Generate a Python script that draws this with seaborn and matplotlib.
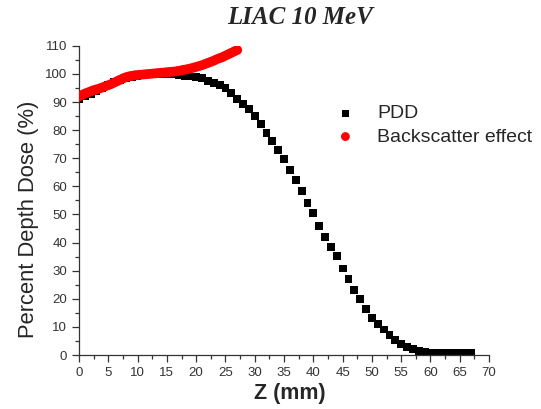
import matplotlib
matplotlib.use("Agg")
import matplotlib.pyplot as plt
import seaborn as sns
import pandas as pd
from matplotlib.ticker import MultipleLocator

# PDD data (depth in mm, percent depth dose)
pdd_z = [0, 1, 2, 3, 4, 5, 6, 7, 8, 9, 10, 11, 12, 13, 14, 15, 16, 17, 18, 19,
         20, 21, 22, 23, 24, 25, 26, 27, 28, 29, 30, 31, 32, 33, 34, 35, 36, 37, 38, 39,
         40, 41, 42, 43, 44, 45, 46, 47, 48, 49, 50, 51, 52, 53, 54, 55, 56, 57, 58, 59,
         60, 61, 62, 63, 64, 65, 66, 67]
pdd_val = [91.0, 92.0, 93.0, 94.0, 95.0, 96.0, 97.0, 97.8, 98.4, 98.9, 99.3, 99.6, 99.8, 100.0, 100.0, 99.9, 99.8, 99.6, 99.4, 99.1,
           98.8, 98.4, 97.4, 96.7, 96.0, 94.9, 93.1, 91.1, 89.4, 87.4, 85.0, 82.1, 79.1, 76.2, 73.0, 69.6, 65.8, 62.2, 58.5, 54.2,
           50.6, 46.0, 42.1, 38.5, 35.2, 30.8, 26.9, 23.1, 20.0, 16.3, 13.3, 11.0, 9.1, 7.0, 5.3, 4.0, 2.9, 2.0, 1.3, 1.0,
           0.9, 0.8, 0.8, 0.7, 0.7, 0.7, 0.6, 0.6]

# Backscatter effect data
bs_z = [0.0, 0.5, 1.0, 1.5, 2.0, 2.5, 3.0, 3.5, 4.0, 4.5, 5.0, 5.5, 6.0, 6.5, 7.0, 7.5, 8.0, 8.5, 9.0, 9.5,
        10.0, 10.5, 11.0, 11.5, 12.0, 12.5, 13.0, 13.5, 14.0, 14.5, 15.0, 15.5, 16.0, 16.5, 17.0, 17.5, 18.0, 18.5, 19.0, 19.5,
        20.0, 20.5, 21.0, 21.5, 22.0, 22.5, 23.0, 23.5, 24.0, 24.5, 25.0, 25.5, 26.0, 26.5, 27.0]
bs_val = [92.0, 92.5, 93.0, 93.4, 93.8, 94.2, 94.5, 94.8, 95.2, 95.6, 96.0, 96.4, 96.9, 97.4, 97.9, 98.4, 98.8, 99.1, 99.3, 99.5,
          99.6, 99.7, 99.8, 99.9, 100.0, 100.1, 100.2, 100.3, 100.4, 100.5, 100.6, 100.7, 100.8, 100.9, 101.1, 101.3, 101.5, 101.7, 101.9, 102.2,
          102.5, 102.8, 103.1, 103.5, 103.9, 104.3, 104.7, 105.2, 105.6, 106.0, 106.5, 107.0, 107.5, 108.0, 108.5]

sns.set_style("ticks")
plt.rcParams['font.family'] = ['Liberation Sans', 'DejaVu Sans']

fig = plt.figure(figsize=(5.41, 4.09), dpi=100)
ax = fig.add_axes([0.146, 0.132, 0.758, 0.756])

df_pdd = pd.DataFrame({"z": pdd_z, "v": pdd_val})
df_bs = pd.DataFrame({"z": bs_z, "v": bs_val})

sns.scatterplot(data=df_pdd, x="z", y="v", marker="s", s=32, color="black",
                edgecolor="none", ax=ax, label="PDD", zorder=2)
sns.scatterplot(data=df_bs, x="z", y="v", marker="o", s=50, color="#ff0000",
                edgecolor="none", ax=ax, label="Backscatter effect", zorder=3)

ax.set_xlim(0, 70)
ax.set_ylim(0, 110)
ax.xaxis.set_major_locator(MultipleLocator(5))
ax.xaxis.set_minor_locator(MultipleLocator(2.5))
ax.yaxis.set_major_locator(MultipleLocator(10))
ax.yaxis.set_minor_locator(MultipleLocator(5))
ax.tick_params(which="major", direction="out", length=5, width=0.9, color="#333333",
               labelsize=9.5, labelcolor="#333333")
ax.tick_params(which="minor", direction="out", length=3, width=0.9, color="#333333")
for s in ["top", "right"]:
    ax.spines[s].set_visible(False)
for s in ["left", "bottom"]:
    ax.spines[s].set_color("#333333")
    ax.spines[s].set_linewidth(0.9)

ax.set_xlabel("Z (mm)", fontsize=15.5, fontweight="bold", labelpad=4)
ax.xaxis.set_label_coords(0.515, -0.09)
ax.set_ylabel("Percent Depth Dose (%)", fontsize=15.8, labelpad=6)
ax.yaxis.set_label_coords(-0.098, 0.44)
fig.text(0.555, 0.958, "LIAC 10 MeV", ha="center", va="center",
         fontsize=18, fontweight="bold", fontstyle="italic", family="Liberation Serif")

leg = ax.legend(loc="upper left", bbox_to_anchor=(0.607, 0.835), frameon=False,
                fontsize=14, handletextpad=1.15, handlelength=1.0, labelspacing=0.3,
                markerscale=0.9, borderaxespad=0)

fig.savefig("out.png", dpi=100)
